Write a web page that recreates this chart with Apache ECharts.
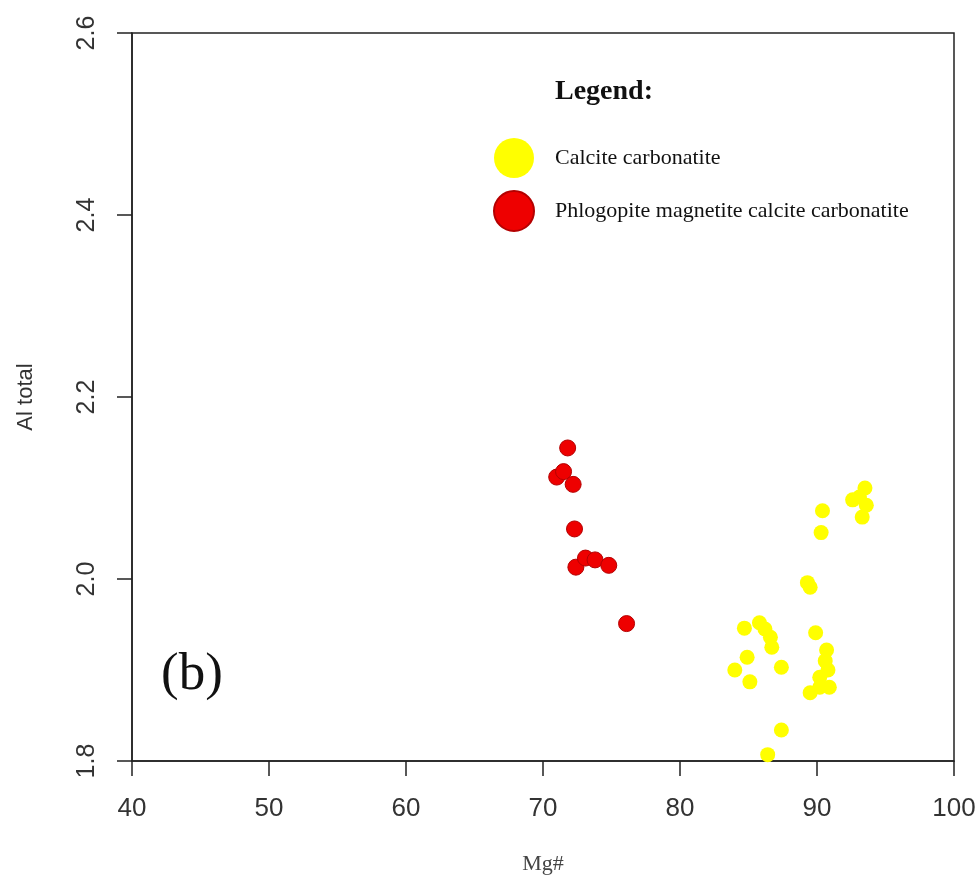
<!DOCTYPE html>
<html>
<head>
<meta charset="utf-8">
<script src="https://cdn.jsdelivr.net/npm/echarts@6/dist/echarts.min.js"></script>
<style>
  html, body { margin: 0; padding: 0; background: #fff; }
  #chart { width: 979px; height: 884px; }
</style>
</head>
<body>
<div id="chart"></div>
<script>
// Mg# vs Al total for the two carbonatite groups
const seriesNames = ['Calcite carbonatite', 'Phlogopite magnetite calcite carbonatite'];

const calciteMg = [90.4, 90.3, 93.1, 93.5, 92.6, 93.3, 93.6, 89.3, 89.5, 89.9, 90.7, 90.8, 90.2, 89.5, 90.9, 90.2,
                   84.7, 85.8, 86.6, 86.7, 87.4, 84.9, 84.0, 85.1, 87.4, 86.4, 86.2, 90.6];
const calciteAl = [2.075, 2.051, 2.090, 2.100, 2.087, 2.068, 2.081, 1.996, 1.991, 1.941, 1.922, 1.900, 1.892, 1.875, 1.881, 1.881,
                   1.946, 1.952, 1.936, 1.925, 1.903, 1.914, 1.900, 1.887, 1.834, 1.807, 1.945, 1.910];

const phlogMg = [71.8, 71.0, 71.5, 72.2, 72.3, 72.4, 73.1, 73.8, 74.8, 76.1];
const phlogAl = [2.144, 2.112, 2.118, 2.104, 2.055, 2.013, 2.023, 2.021, 2.015, 1.951];

const xTicks = [40, 50, 60, 70, 80, 90, 100];
const yTicks = [1.8, 2.0, 2.2, 2.4, 2.6];

const zip = (xs, ys) => xs.map((x, i) => [x, ys[i]]);

const chart = echarts.init(document.getElementById('chart'));
chart.setOption({
  backgroundColor: '#ffffff',
  animation: false,
  grid: {
    left: 132, top: 33, right: 25, bottom: 123,
    show: true, borderColor: '#222', borderWidth: 1.5, backgroundColor: 'transparent'
  },
  xAxis: {
    type: 'value',
    min: xTicks[0], max: xTicks[xTicks.length - 1], interval: 10,
    name: 'Mg#', nameLocation: 'middle', nameGap: 92,
    nameTextStyle: { fontFamily: 'Liberation Serif', fontSize: 22, color: '#444' },
    axisLine: { show: true, onZero: false, lineStyle: { color: '#222', width: 1.5 } },
    axisTick: { show: true, inside: false, length: 15, lineStyle: { color: '#222', width: 1.5 } },
    axisLabel: { fontFamily: 'Liberation Sans', fontSize: 26, color: '#333', margin: 35 },
    splitLine: { show: false }
  },
  yAxis: {
    type: 'value',
    min: yTicks[0], max: yTicks[yTicks.length - 1], interval: 0.2,
    name: 'Al total', nameLocation: 'middle', nameGap: 95, nameRotate: 90,
    nameTextStyle: { fontFamily: 'Liberation Sans', fontSize: 22, color: '#333' },
    axisLine: { show: true, onZero: false, lineStyle: { color: '#222', width: 1.5 } },
    axisTick: { show: true, inside: false, length: 15, lineStyle: { color: '#222', width: 1.5 } },
    axisLabel: {
      fontFamily: 'Liberation Sans', fontSize: 25, color: '#333', rotate: 90, margin: 32,
      formatter: v => v.toFixed(1)
    },
    splitLine: { show: false }
  },
  legend: {
    orient: 'vertical',
    left: 488, top: 133,
    itemWidth: 40, itemHeight: 40, itemGap: 12,
    icon: 'circle',
    textStyle: { fontFamily: 'Liberation Serif', fontSize: 22, color: '#111', padding: [0, 0, 0, 16] },
    data: seriesNames
  },
  graphic: [
    { type: 'text', left: 555, top: 78, style: { text: 'Legend:', font: 'bold 28px "Liberation Serif"', fill: '#111' } },
    { type: 'text', left: 161, top: 649, style: { text: '(b)', font: '53px "Liberation Serif"', fill: '#111' } }
  ],
  series: [
    {
      name: seriesNames[0], type: 'scatter', symbol: 'circle', symbolSize: 15,
      itemStyle: { color: '#ffff00', opacity: 1 },
      data: zip(calciteMg, calciteAl)
    },
    {
      name: seriesNames[1], type: 'scatter', symbol: 'circle', symbolSize: 16,
      itemStyle: { color: '#ee0000', borderColor: '#b40000', borderWidth: 1, opacity: 1 },
      data: zip(phlogMg, phlogAl)
    }
  ]
});
</script>
</body>
</html>
